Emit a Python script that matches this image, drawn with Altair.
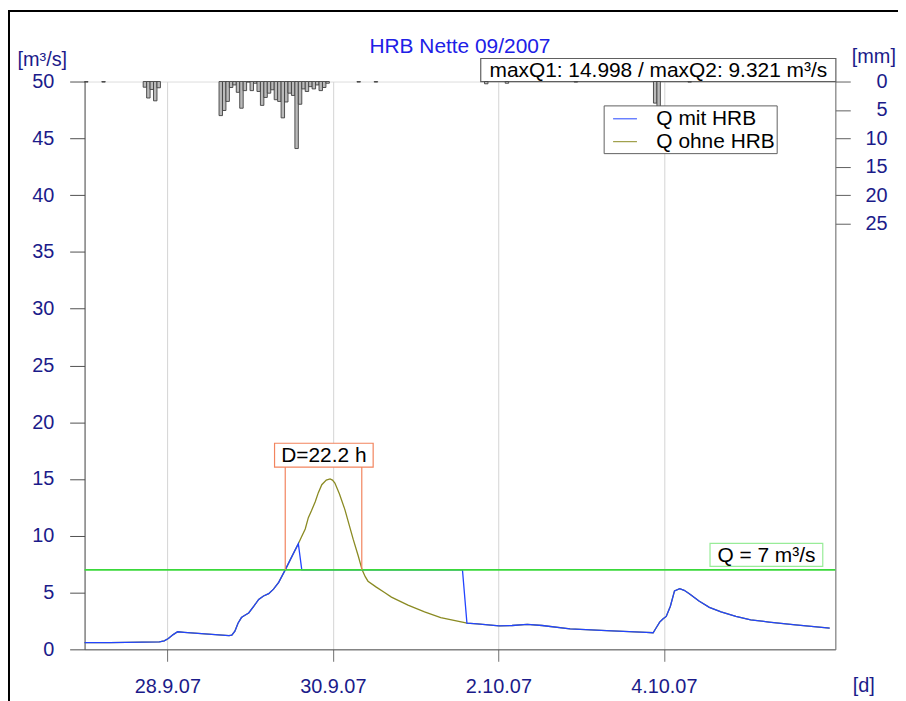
import altair as alt
import pandas as pd

FONT = "Liberation Sans"
NAVY = "#1b1b8a"
BLUE = "#2244ff"
OLIVE = "#8a8a22"
GREEN = "#3ad83a"
CORAL = "#f2845e"

# ---------------- data (hours since 27.9.07 00:00) ----------------
# rising limb shared by both series
base_h = [0, 7.3, 21.7, 23.1, 24.3, 25.7, 27.0, 28.9, 41.9, 42.7, 43.6, 44.5,
          45.5, 46.5, 47.6, 49.1, 50.5, 51.9, 53.4, 54.8, 56.3, 58.2, 60.0, 62.0]
base_q = [0.6, 0.6, 0.65, 0.75, 0.95, 1.3, 1.55, 1.5, 1.2, 1.25, 1.6, 2.3,
          2.8, 3.0, 3.2, 3.8, 4.4, 4.7, 4.9, 5.3, 5.9, 7.0, 8.1, 9.3]
# flood peak without retention basin (Q ohne HRB)
peak_h = [62.9, 64.0, 64.9, 65.8, 66.9, 67.8, 68.8, 70.1, 71.2, 71.9, 72.6,
          73.9, 75.5, 76.8, 77.9, 79.4, 80.5, 81.4, 82.2, 84.5, 87.0, 89.0,
          93.8, 98.6, 103.3, 110.6]
peak_q = [9.9, 10.6, 11.6, 12.2, 13.0, 13.8, 14.5, 14.9, 15.0, 14.9, 14.65,
          13.7, 12.3, 10.9, 9.7, 8.2, 7.0, 6.4, 6.0, 5.5, 5.0, 4.6,
          3.9, 3.3, 2.8, 2.33]
# retained flow with basin (Q mit HRB)
hrb_h = [63.0, 109.6]
hrb_q = [7.0, 7.0]
# falling limb shared by both series
late_h = [110.9, 113.9, 120.2, 124.0, 128.4, 132.7, 140.8, 151.4, 162.9, 164.9,
          165.8, 166.8, 167.8, 168.7, 169.9, 171.1, 172.6, 173.9, 175.4, 178.2,
          181.2, 184.6, 188.9, 193.2, 198.5, 206.2, 216.1]
late_q = [2.3, 2.25, 2.07, 2.1, 2.2, 2.1, 1.8, 1.65, 1.5, 1.46,
          1.9, 2.4, 2.7, 2.9, 3.8, 5.15, 5.35, 5.2, 4.9, 4.25,
          3.7, 3.3, 2.9, 2.6, 2.4, 2.15, 1.87]

# hourly precipitation [mm]
precip_h = [0, 5, 17, 18, 19, 20, 21] + list(range(39, 71)) + [79, 84, 116, 122, 142, 165, 166, 175]
precip_mm = [0.1, 0.1, 1.0, 2.9, 1.4, 3.4, 1.1,
             6.0, 5.1, 3.5, 1.05, 0.6, 1.9, 4.7, 1.6, 0.1, 1.6, 0.3, 1.75, 4.2, 2.8,
             2.05, 1.45, 3.2, 3.5, 6.4, 3.6, 2.05, 2.45, 11.8, 4.0, 1.3, 1.75, 0.9,
             1.3, 0.6, 1.6, 1.05, 0.3,
             0.1, 0.1, 0.4, 0.3, 0.1, 3.8, 6.0, 0.1]

series_names = ["Q mit HRB", "Q ohne HRB"]
threshold = 7.0
cross_h = [58.2, 80.4]          # threshold crossings -> D = 22.2 h
d_label = "D=22.2 h"
d_box_h = [55.1, 83.7]
d_box_q = [16.05, 18.15]
q_label = "Q = 7 m³/s"
q_box_h = [181.4, 214.1]
q_box_q = [7.3, 9.33]
max_label = "maxQ1: 14.998 / maxQ2: 9.321 m³/s"
max_box_h = [114.9, 217.9]
max_box_q = [50.0, 52.03]

T0 = pd.Timestamp("2007-09-27 00:00")


def ts(hours):
    return T0 + pd.to_timedelta(pd.Series(hours, dtype=float), unit="h")


olive_df = pd.DataFrame({"t": ts(base_h + peak_h + late_h),
                         "q": base_q + peak_q + late_q, "series": series_names[1]})
blue_df = pd.DataFrame({"t": ts(base_h + hrb_h + late_h),
                        "q": base_q + hrb_q + late_q, "series": series_names[0]})
precip_df = pd.DataFrame({"t": ts(precip_h), "t2": ts([h + 1 for h in precip_h]), "mm": precip_mm})
thr_df = pd.DataFrame({"q": [threshold]})
cross_df = pd.DataFrame({"t": ts(cross_h), "y1": [threshold] * 2, "y2": [d_box_q[0]] * 2})


def box_df(hs, qs, label):
    return pd.DataFrame({"t1": ts([hs[0]]), "t2": ts([hs[1]]), "tm": ts([(hs[0] + hs[1]) / 2]),
                         "y1": [qs[0]], "y2": [qs[1]], "ym": [(qs[0] + qs[1]) / 2], "label": [label]})


d_df = box_df(d_box_h, d_box_q, d_label)
qlab_df = box_df(q_box_h, q_box_q, q_label)
max_df = box_df(max_box_h, max_box_q, max_label)

# ---------------- encodings ----------------
x_dom = [alt.DateTime(year=2007, month=9, date=27),
         alt.DateTime(year=2007, month=10, date=6, hours=1, minutes=45)]
x_scale = alt.Scale(domain=x_dom)
x_axis = alt.Axis(
    values=[alt.DateTime(year=2007, month=9, date=28), alt.DateTime(year=2007, month=9, date=30),
            alt.DateTime(year=2007, month=10, date=2), alt.DateTime(year=2007, month=10, date=4)],
    format="%-d.%-m.%y", grid=True, gridColor="#d4d4d4", gridWidth=1,
    tickSize=12, tickColor="#707070", domainColor="#505050",
    labelFontSize=20, labelFont=FONT, labelColor=NAVY, labelPadding=31,
    labelBaseline="alphabetic", labelFlush=False,
    title="[d]", titleX=772, titleY=42, titleAlign="left", titleBaseline="alphabetic",
    titleAngle=0, titleFontSize=20, titleFont=FONT, titleFontWeight="normal", titleColor=NAVY)
y_scale = alt.Scale(domain=[0, 50], nice=False)
y_axis = alt.Axis(
    values=list(range(0, 51, 5)), grid=False, tickSize=15, tickColor="#505050",
    domainColor="#505050", labelPadding=16, labelFontSize=20, labelFont=FONT, labelColor=NAVY,
    title="[m³/s]", titleAngle=0, titleX=-68, titleY=-16, titleAlign="left",
    titleBaseline="alphabetic", titleFontSize=20, titleFont=FONT, titleFontWeight="normal",
    titleColor=NAVY)
color_scale = alt.Scale(domain=series_names, range=[BLUE, OLIVE])
legend = alt.Legend(orient="none", legendX=522, legendY=24, title=None, direction="vertical",
                    fillColor="white", strokeColor="#606060", padding=1,
                    symbolType="stroke", symbolSize=576, symbolStrokeWidth=1, symbolOffset=8,
                    labelFontSize=21, labelFont=FONT, labelColor="black", labelOffset=19,
                    rowPadding=0, labelLimit=300)

olive = alt.Chart(olive_df).mark_line(strokeWidth=1.3).encode(
    x=alt.X("t:T", scale=x_scale, axis=x_axis),
    y=alt.Y("q:Q", scale=y_scale, axis=y_axis),
    color=alt.Color("series:N", scale=color_scale, legend=legend))
blue = alt.Chart(blue_df).mark_line(strokeWidth=1.3).encode(
    x="t:T", y="q:Q",
    color=alt.Color("series:N", scale=color_scale, legend=legend))
green = alt.Chart(thr_df).mark_rule(color=GREEN, strokeWidth=1.6).encode(y="q:Q")
coral = alt.Chart(cross_df).mark_rule(color=CORAL, strokeWidth=1.2).encode(
    x="t:T", y="y1:Q", y2="y2:Q")


def labelled_box(df, stroke):
    box = alt.Chart(df).mark_rect(fill="white", stroke=stroke, strokeWidth=1.2).encode(
        x="t1:T", x2="t2:T", y="y1:Q", y2="y2:Q")
    txt = alt.Chart(df).mark_text(font=FONT, fontSize=21, color="black",
                                  align="center", baseline="middle", dy=1).encode(
        x="tm:T", y="ym:Q", text="label:N")
    return [box, txt]


# outer black picture frame (only its top and left edges fall inside the page)
one = pd.DataFrame({"a": [0]})
frame = alt.Chart(one).mark_rect(fill="white", fillOpacity=0, stroke="black", strokeWidth=2).encode(
    x=alt.value(-76), x2=alt.value(900), y=alt.value(-71), y2=alt.value(800))

inner = alt.layer(olive, blue, green, coral,
                  *labelled_box(d_df, CORAL), *labelled_box(qlab_df, "#98ec98"),
                  *labelled_box(max_df, "#606060"), frame)

precip = alt.Chart(precip_df).mark_rect(fill="#bababa", stroke="#404040", strokeWidth=0.9).encode(
    x="t:T", x2="t2:T",
    y=alt.Y("mm:Q", scale=alt.Scale(domain=[0, 100], reverse=True, nice=False),
            axis=alt.Axis(orient="right", values=[0, 5, 10, 15, 20, 25], grid=False,
                          tickSize=15, tickColor="#606060", domainColor="#707070",
                          labelAlign="right", labelPadding=37, labelFontSize=20,
                          labelFont=FONT, labelColor=NAVY,
                          title="[mm]", titleAngle=0, titleX=16, titleY=-19,
                          titleAlign="left", titleBaseline="alphabetic", titleFontSize=20,
                          titleFont=FONT, titleFontWeight="normal", titleColor=NAVY)),
    y2=alt.datum(0))

chart = alt.layer(inner, precip).resolve_scale(y="independent").properties(
    width=755, height=571,
    autosize=alt.AutoSizeParams(type="none"),
    padding={"left": 77, "top": 72, "right": 63, "bottom": 50},
    title=alt.TitleParams("HRB Nette 09/2007", font=FONT, fontSize=21, fontWeight="normal",
                          color="#2020e6", anchor="middle", baseline="alphabetic", offset=-64),
).configure_view(stroke="#606060", strokeWidth=1).configure(font=FONT)

chart.save("out.html", embed_options={"renderer": "svg", "actions": False})
